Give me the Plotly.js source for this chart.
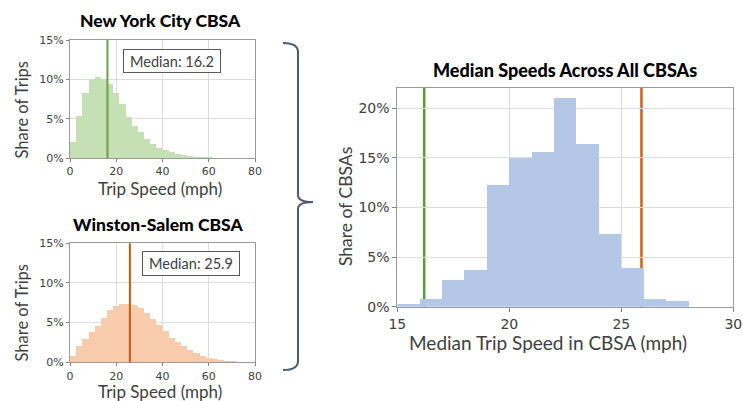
<!DOCTYPE html>
<html>
<head>
<meta charset="utf-8">
<script src="https://cdn.plot.ly/plotly-3.0.1.min.js"></script>
<style>html,body{margin:0;padding:0;background:#fff;}#chart{width:743px;height:401px;}</style>
</head>
<body>
<div id="chart"></div>
<script>
// ---- data ----
const tripBinCount = 30;           // bins over 0-80 mph
const tripSpeedMax = 80;
const nycShare = [2.0, 5.4, 8.2, 10.0, 10.35, 10.1, 9.4, 8.3, 6.9, 5.2, 4.1, 3.25, 2.45, 1.75, 1.3, 0.97, 0.7, 0.5, 0.38, 0.26, 0.18, 0.12, 0.08, 0.05, 0.03, 0.02, 0.015, 0.01, 0.005, 0.003];
const wsShare = [0.84, 2.06, 2.94, 3.87, 4.6, 5.55, 6.6, 7.1, 7.3, 7.35, 7.2, 6.8, 6.2, 5.5, 4.7, 3.9, 3.1, 2.5, 2.0, 1.5, 1.13, 0.84, 0.6, 0.42, 0.3, 0.2, 0.12, 0.08, 0.05, 0.03];
const cbsaBinStart = [15, 16, 17, 18, 19, 20, 21, 22, 23, 24, 25, 26, 27];
const cbsaShare = [0.3, 0.8, 2.65, 3.66, 12.25, 14.95, 15.6, 21.05, 16.35, 7.32, 3.93, 0.8, 0.57];
const nycMedian = 16.2;
const wsMedian = 25.9;
const titles = ["New York City CBSA", "Winston-Salem CBSA", "Median Speeds Across All CBSAs"];
const smallYTicks = [0, 5, 10, 15];
const smallYLabels = ["0%", "5%", "10%", "15%"];
const bigYTicks = [0, 5, 10, 15, 20];
const bigYLabels = ["0%", "5%", "10%", "15%", "20%"];

// ---- helpers ----
const W = 743, H = 401;
const px = x => x / W, py = y => 1 - y / H;
const bw = tripSpeedMax / tripBinCount;
const tripCenters = nycShare.map((_, i) => (i + 0.5) * bw);
const cbsaCenters = cbsaBinStart.map(s => s + 0.5);

const tickFont = {family: "DejaVu Sans", size: 11, color: "#404040"};
const bigTickFont = {family: "DejaVu Sans", size: 14, color: "#404040"};
const labFont = {family: "Lato", size: 17, color: "#404040"};
const titleFont = {family: "Lato", size: 17.5, color: "#000", weight: 900};

const traces = [
  {type: "bar", x: tripCenters, y: nycShare, width: bw, xaxis: "x", yaxis: "y",
   marker: {color: "#c5e0b4", line: {width: 0}}, hoverinfo: "skip"},
  {type: "bar", x: tripCenters, y: wsShare, width: bw, xaxis: "x2", yaxis: "y2",
   marker: {color: "#f8cbad", line: {width: 0}}, hoverinfo: "skip"},
  {type: "bar", x: cbsaCenters, y: cbsaShare, width: 1, xaxis: "x3", yaxis: "y3",
   marker: {color: "#b4c7e7", line: {width: 0}}, hoverinfo: "skip"}
];

function ax(extra) {
  return Object.assign({
    showgrid: true, gridcolor: "#dcdcdc", gridwidth: 1,
    showline: true, linecolor: "#9a9a9a", linewidth: 1, mirror: true,
    ticks: "outside", ticklen: 3, tickcolor: "#808080",
    zeroline: false, fixedrange: true
  }, extra);
}

function note(x, y, text, font, extra) {
  return Object.assign({xref: "paper", yref: "paper", x: px(x), y: py(y), xanchor: "center", yanchor: "middle",
    text: text, showarrow: false, font: font}, extra || {});
}

const layout = {
  width: W, height: H,
  margin: {l: 0, r: 0, t: 0, b: 0},
  paper_bgcolor: "#fff", plot_bgcolor: "#fff",
  showlegend: false, bargap: 0,
  xaxis: ax({domain: [px(70), px(255)], range: [0, 80], dtick: 20, tickfont: tickFont, anchor: "y"}),
  yaxis: ax({domain: [py(158), py(40)], range: [0, 15], tickmode: "array", tickvals: smallYTicks, ticktext: smallYLabels, tickfont: tickFont, anchor: "x"}),
  xaxis2: ax({domain: [px(70), px(255)], range: [0, 80], dtick: 20, tickfont: tickFont, anchor: "y2"}),
  yaxis2: ax({domain: [py(362.3), py(243.3)], range: [0, 15], tickmode: "array", tickvals: smallYTicks, ticktext: smallYLabels, tickfont: tickFont, anchor: "x2"}),
  xaxis3: ax({domain: [px(397.3), px(733.3)], range: [15, 30], dtick: 5, tickfont: bigTickFont, anchor: "y3", ticklen: 4}),
  yaxis3: ax({domain: [py(306.7), py(87.7)], range: [0, 22.05], tickmode: "array", tickvals: bigYTicks, ticktext: bigYLabels, tickfont: bigTickFont, anchor: "x3", ticklen: 4}),
  shapes: [
    {type: "line", xref: "x", yref: "y domain", x0: nycMedian, x1: nycMedian, y0: 0, y1: 1,
     line: {color: "#6d9f48", width: 2}, layer: "above"},
    {type: "line", xref: "x2", yref: "y2 domain", x0: wsMedian, x1: wsMedian, y0: 0, y1: 1,
     line: {color: "#c55a11", width: 2}, layer: "above"},
    {type: "line", xref: "x3", yref: "y3 domain", x0: nycMedian, x1: nycMedian, y0: 0, y1: 1,
     line: {color: "#5b9b35", width: 2.5}, layer: "below"},
    {type: "line", xref: "x3", yref: "y3 domain", x0: wsMedian, x1: wsMedian, y0: 0, y1: 1,
     line: {color: "#d0601a", width: 2.5}, layer: "below"},
    {type: "path", xref: "paper", yref: "paper",
     path: `M ${px(283)},${py(43)} Q ${px(298)},${py(43)} ${px(298)},${py(52)} L ${px(298)},${py(195)} Q ${px(298)},${py(202)} ${px(313)},${py(202)} Q ${px(298)},${py(202)} ${px(298)},${py(209)} L ${px(298)},${py(361)} Q ${px(298)},${py(370)} ${px(283)},${py(370)}`,
     line: {color: "#4a5a70", width: 2}, layer: "above"}
  ],
  annotations: [
    note(160, 21, titles[0], titleFont),
    note(158, 224.5, titles[1], titleFont),
    note(565, 70, titles[2], Object.assign({}, titleFont, {size: 18})),
    note(160, 188, "Trip Speed (mph)", labFont),
    note(160, 391.7, "Trip Speed (mph)", labFont),
    note(548, 342.7, "Median Trip Speed in CBSA (mph)", Object.assign({}, labFont, {size: 19})),
    note(21, 109.5, "Share of Trips", Object.assign({}, labFont, {size: 16.5}), {textangle: -90}),
    note(21, 312.5, "Share of Trips", Object.assign({}, labFont, {size: 16.5}), {textangle: -90}),
    note(345, 207, "Share of CBSAs", Object.assign({}, labFont, {size: 17.5}), {textangle: -90}),
    note(172, 61, "Median: " + nycMedian, {family: "Lato", size: 14.5, color: "#404040"},
      {bordercolor: "#595959", borderwidth: 1, bgcolor: "#fff", width: 92, height: 18, borderpad: 2}),
    note(191, 263.5, "Median: " + wsMedian, {family: "Lato", size: 14.5, color: "#404040"},
      {bordercolor: "#595959", borderwidth: 1, bgcolor: "#fff", width: 92, height: 19, borderpad: 2})
  ]
};

Plotly.newPlot("chart", traces, layout, {displayModeBar: false, staticPlot: true});
</script>
</body>
</html>
